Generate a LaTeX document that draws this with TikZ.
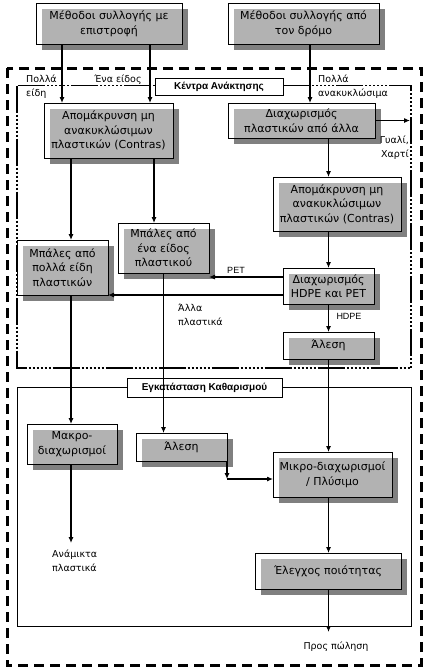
\documentclass[tikz,border=0pt]{standalone}
\usepackage{fontspec}
\setmainfont{DejaVu Sans}
\newfontfamily\arialfont{Liberation Sans}
\usepackage{tikz}
\usetikzlibrary{positioning, calc, backgrounds, arrows.meta}
\definecolor{boxlight}{gray}{0.70}
\definecolor{boxdark}{gray}{0.50}
\tikzstyle{process} = [rectangle, draw=black, line width=0.9pt, inner sep=1pt, outer sep=0pt, text centered, align=center, font=\fontsize{11}{14.5}\selectfont]
\tikzstyle{title} = [rectangle, draw=black, line width=0.9pt, fill=white, inner sep=0pt, outer sep=0pt, font=\arialfont\bfseries\fontsize{10}{12}\selectfont]
\tikzstyle{note} = [inner sep=0pt, font=\fontsize{9.5}{14}\selectfont]
\tikzstyle{arialnote} = [inner sep=0pt, font=\arialfont\fontsize{9}{11}\selectfont]
\tikzstyle{arrow} = [-{Latex[length=6pt, width=5pt]}, line width=1.1pt]
\tikzstyle{outerframe} = [line width=3pt, dash pattern=on 10pt off 6pt]
\tikzstyle{centreframe} = [line width=1.8pt, dash pattern=on 27pt off 2pt on 2pt off 2pt on 2pt off 2pt on 2pt off 2pt on 2pt off 2pt on 2pt off 2pt on 2pt off 2pt]
\tikzstyle{plantframe} = [line width=0.8pt]

\begin{document}
\begin{tikzpicture}[x=1pt, y=1pt]
  \useasboundingbox (0,0) rectangle (429,-670);
  %frames
  \draw [outerframe] (7,-68) rectangle (421,-665);
  \draw [centreframe] (17,-85.5) rectangle (411,-368);
  \draw [plantframe] (17,-387.5) rectangle (411,-626);
  \node (centre) [title, minimum width=128pt, minimum height=17pt] at (219,-86.5) {Κέντρα Ανάκτησης};
  \node (plant) [title, minimum width=155pt, minimum height=19pt] at (204.5,-387.5) {Εγκατάσταση Καθαρισμού};

  %boxes
  \node (meth1) [process, minimum width=146pt, minimum height=41pt] at (109,-23.5) {Μέθοδοι συλλογής με\\επιστροφή};
  \node (meth2) [process, minimum width=151pt, minimum height=41pt] at (303.5,-23.5) {Μέθοδοι συλλογής από\\τον δρόμο};
  \node (cont1) [process, minimum width=129pt, minimum height=55pt] at (108.5,-130.5) {Απομάκρυνση μη\\ανακυκλώσιμων\\πλαστικών (Contras)};
  \node (sep1) [process, minimum width=147pt, minimum height=35pt] at (301.5,-120.5) {Διαχωρισμός\\πλαστικών από άλλα};
  \node (cont2) [process, minimum width=128pt, minimum height=54pt] at (337,-204) {Απομάκρυνση μη\\ανακυκλώσιμων\\πλαστικών (Contras)};
  \node (bale1) [process, minimum width=91pt, minimum height=50pt] at (163.5,-248) {Μπάλες από\\ένα είδος\\πλαστικού};
  \node (balem) [process, minimum width=91pt, minimum height=55pt] at (62.5,-267.5) {Μπάλες από\\πολλά είδη\\πλαστικών};
  \node (sep2) [process, minimum width=91pt, minimum height=36pt] at (328.5,-286) {Διαχωρισμός\\HDPE και PET};
  \node (grind1) [process, minimum width=91pt, minimum height=27pt] at (328.5,-345.5) {Άλεση};
  \node (macro) [process, minimum width=90pt, minimum height=40pt] at (72,-444) {Μακρο-\\διαχωρισμοί};
  \node (grind2) [process, minimum width=91pt, minimum height=28pt] at (181.5,-447) {Άλεση};
  \node (micro) [process, minimum width=119pt, minimum height=45pt] at (332.5,-474.5) {Μικρο-διαχωρισμοί\\/ Πλύσιμο};
  \node (qual) [process, minimum width=146pt, minimum height=36pt] at (328,-571) {Έλεγχος ποιότητας};

  %gray fill of the boxes
  \begin{scope}[on background layer]
    \foreach \n in {meth1,meth2,cont1,sep1,cont2,bale1,balem,sep2,grind1,macro,grind2,micro,qual}{
      \fill [boxdark] ($(\n.north west)+(6,-6)$) rectangle ($(\n.south east)+(6,-6)$);
      \fill [boxlight] ($(\n.north west)+(6,-6)$) rectangle (\n.south east);
    }
  \end{scope}

  %labels
  \node (manyl) [note, anchor=west, align=left] at (26,-87) {Πολλά\\είδη};
  \node (onel) [note] at (118,-80) {Ένα είδος};
  \node (manyr) [note, anchor=west, align=left] at (318,-87) {Πολλά\\ανακυκλώσιμα};
  \node (glass) [note, anchor=east, align=right] at (409,-148) {Γυαλί,\\Χαρτί};
  \node (pet) [arialnote] at (236,-270) {PET};
  \node (other) [note, anchor=west, align=left] at (178,-315) {Άλλα\\πλαστικά};
  \node (hdpe) [arialnote] at (349,-316) {HDPE};
  \node (mixed) [note, anchor=west, align=left] at (52,-561) {Ανάμικτα\\πλαστικά};
  \node (sale) [note] at (336,-647) {Προς πώληση};

  %connections
  \draw [arrow] ($(meth1.south)+(-47,0)$) -- ($(cont1.north)+(-46.5,0)$);
  \draw [arrow] ($(meth1.south)+(41,0)$) -- ($(cont1.north)+(41.5,0)$);
  \draw [arrow] ($(meth2.south)+(6.5,0)$) -- ($(sep1.north)+(8.5,0)$);
  \draw [arrow] ($(sep1.south)+(27,0)$) -- ($(cont2.north)+(-8.5,0)$);
  \draw [arrow] (sep1.east) -- ($(sep1.east)+(35,0)$);
  \draw [arrow] ($(cont2.south)+(-8.5,0)$) -- (sep2.north);
  \draw [arrow] (sep2) -- (grind1);
  \draw [arrow] (grind1) -- ($(micro.north)+(-4,0)$);
  \draw [arrow] ($(micro.south)+(-4,0)$) -- ($(qual.north)+(0.5,0)$);
  \draw [arrow] ($(qual.south)+(0.5,0)$) -- ($(qual.south)+(0.5,-43)$);
  \draw [arrow] ($(cont1.south)+(-37.5,0)$) -- ($(balem.north)+(8.5,0)$);
  \draw [arrow] ($(cont1.south)+(45.5,0)$) -- ($(bale1.north)+(-9.5,0)$);
  \draw [arrow] ($(sep2.west)+(0,9)$) -- ($(bale1.south east)+(0,-4)$);
  \draw [arrow] ($(sep2.west)+(0,-9)$) -- (balem.south east);
  \draw [arrow] ($(balem.south)+(8.5,0)$) -- ($(macro.north)+(-1,0)$);
  \draw [arrow] (bale1.south) -- ($(grind2.north)+(-18,0)$);
  \coordinate (bend) at ($(grind2.south east)+(0,-18)$);
  \draw [arrow] (grind2.south east) -- (bend);
  \draw [arrow] (bend) -- (bend -| micro.west);
  \draw [arrow] ($(macro.south)+(-1,0)$) -- ($(macro.south)+(-1,-79)$);
\end{tikzpicture}
\end{document}
